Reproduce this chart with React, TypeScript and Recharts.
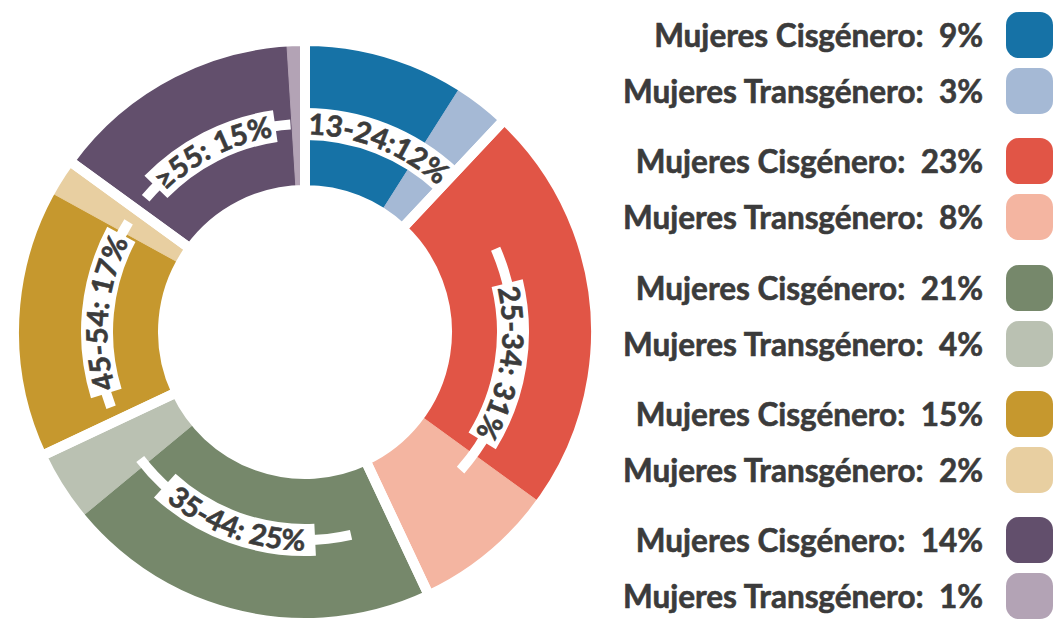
import { PieChart, Pie, Cell } from "recharts";

// age groups, each split into cis / trans share (% of total)
const ageGroups = ["13-24", "25-34", "35-44", "45-54", "≥55"];
const groupLabels = ["13-24:12%", "25-34: 31%", "35-44: 25%", "45-54: 17%", "≥55: 15%"];
const cisValues = [9, 23, 21, 15, 14];
const transValues = [3, 8, 4, 2, 1];
const cisFill = ["#1672A6", "#E15546", "#76886B", "#C6982E", "#624F6C"];
const transFill = ["#A5B9D5", "#F4B5A1", "#BAC1B2", "#E8CFA1", "#B3A3B5"];
const legendCis = "Mujeres Cisgénero:";
const legendTrans = "Mujeres Transgénero:";

const sliceData = ageGroups.flatMap((g, i) => [
  { name: `${g} cis`, value: cisValues[i], fill: cisFill[i] },
  { name: `${g} trans`, value: transValues[i], fill: transFill[i] },
]);
const groupData = ageGroups.map((g, i) => ({ name: g, value: cisValues[i] + transValues[i] }));

const CX = 305;
const CY = 332;
const FS = 29;
const FONT = "Lato, 'Open Sans', sans-serif";
const TEXT = "#3b3b3b";
const RAD = Math.PI / 180;

let ctx: CanvasRenderingContext2D | null = null;
function measure(s: string) {
  if (!ctx) ctx = document.createElement("canvas").getContext("2d");
  if (!ctx) return s.length * FS * 0.55;
  ctx.font = `bold ${FS}px Lato`;
  return ctx.measureText(s).width;
}

function pt(cx: number, cy: number, r: number, a: number) {
  return [cx + r * Math.cos(-a * RAD), cy + r * Math.sin(-a * RAD)];
}

function arc(cx: number, cy: number, r: number, from: number, to: number) {
  const [x1, y1] = pt(cx, cy, r, from);
  const [x2, y2] = pt(cx, cy, r, to);
  const large = Math.abs(to - from) > 180 ? 1 : 0;
  const sweep = to < from ? 1 : 0;
  return `M${x1},${y1} A${r},${r} 0 ${large} ${sweep} ${x2},${y2}`;
}

function GroupLabel(props: any) {
  const { cx, cy, midAngle, startAngle, endAngle, index } = props;
  const text = groupLabels[index];
  const w = measure(text);
  const rBand = 208;
  const bandHalf = (w / 2 + 7) / rBand / RAD;
  const span = Math.abs(endAngle - startAngle);
  const thinHalf = Math.max(bandHalf, Math.min(bandHalf + 10, span / 2 - 4));
  const flip = Math.sin(midAngle * RAD) < -0.5;
  const capH = FS * 0.72;
  const rText = flip ? rBand + capH / 2 : rBand - capH / 2;
  const ext = bandHalf + 25;
  const textPath = flip
    ? arc(cx, cy, rText, midAngle - ext, midAngle + ext)
    : arc(cx, cy, rText, midAngle + ext, midAngle - ext);
  const id = `grp-label-${index}`;
  return (
    <g>
      <path d={arc(cx, cy, rBand, midAngle + thinHalf, midAngle - thinHalf)} stroke="#fff" strokeWidth={10} fill="none" />
      <path d={arc(cx, cy, rBand, midAngle + bandHalf, midAngle - bandHalf)} stroke="#fff" strokeWidth={32} fill="none" />
      <path id={id} d={textPath} fill="none" stroke="none" />
      <text fontFamily={FONT} fontWeight={700} fontSize={FS} fill={TEXT} stroke={TEXT} strokeWidth={0.6}>
        <textPath href={`#${id}`} startOffset="50%" textAnchor="middle">
          {text}
        </textPath>
      </text>
    </g>
  );
}

function Legend() {
  const rows = ageGroups.flatMap((g, i) => [
    { label: legendCis, value: cisValues[i], color: cisFill[i], y: 35 + i * 126.3 },
    { label: legendTrans, value: transValues[i], color: transFill[i], y: 35 + i * 126.3 + 56 },
  ]);
  return (
    <>
      {rows.map((r, k) => (
        <div
          key={k}
          style={{
            position: "absolute",
            left: 560,
            width: 493,
            top: r.y - 23,
            height: 46,
            display: "flex",
            alignItems: "center",
            justifyContent: "flex-end",
          }}
        >
          <span
            style={{
              fontFamily: FONT,
              fontWeight: 700,
              fontSize: 31.5,
              color: TEXT,
              whiteSpace: "pre",
              marginRight: 23,
              lineHeight: "46px",
              WebkitTextStroke: "0.6px " + TEXT,
            }}
          >
            {`${r.label}  ${r.value}%`}
          </span>
          <div style={{ width: 47, height: 46, borderRadius: 13, background: r.color }} />
        </div>
      ))}
    </>
  );
}

export default function App() {
  return (
    <div style={{ position: "absolute", left: 0, top: 0, width: 1055, height: 619, background: "#fff" }}>
      <PieChart width={620} height={619} margin={{ top: 0, right: 0, bottom: 0, left: 0 }}>
        <Pie
          data={sliceData}
          dataKey="value"
          cx={CX}
          cy={CY}
          innerRadius={142}
          outerRadius={291}
          startAngle={90}
          endAngle={-270}
          isAnimationActive={false}
        >
          {sliceData.map((d, i) => (
            <Cell key={i} fill={d.fill} stroke={d.fill} strokeWidth={1} />
          ))}
        </Pie>
        <Pie
          data={groupData}
          dataKey="value"
          cx={CX}
          cy={CY}
          innerRadius={142}
          outerRadius={291}
          startAngle={90}
          endAngle={-270}
          fill="none"
          stroke="#fff"
          strokeWidth={10}
          label={GroupLabel}
          labelLine={false}
          isAnimationActive={false}
        >
          {groupData.map((d, i) => (
            <Cell key={i} fill="none" stroke="#fff" strokeWidth={10} />
          ))}
        </Pie>
      </PieChart>
      <Legend />
    </div>
  );
}
